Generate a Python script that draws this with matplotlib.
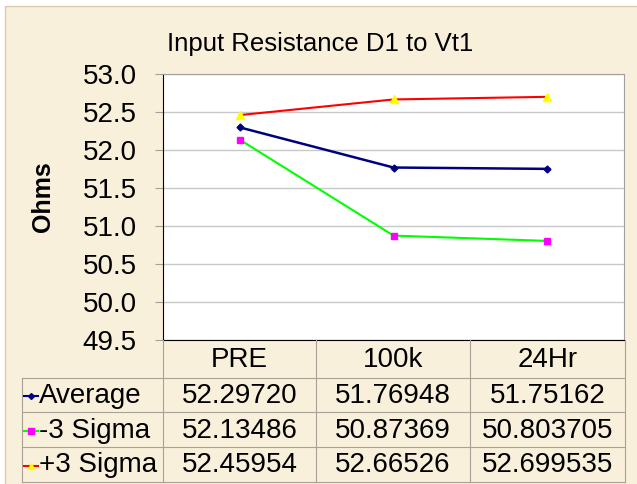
import matplotlib.pyplot as plt
from matplotlib.patches import Rectangle

plt.rcParams['font.family'] = ['Liberation Sans', 'DejaVu Sans']

categories = ["PRE", "100k", "24Hr"]
series_names = ["Average", "-3 Sigma", "+3 Sigma"]
avg_txt = ["52.29720", "51.76948", "51.75162"]
minus3_txt = ["52.13486", "50.87369", "50.803705"]
plus3_txt = ["52.45954", "52.66526", "52.699535"]
yticks = [49.5, 50.0, 50.5, 51.0, 51.5, 52.0, 52.5, 53.0]

avg = [float(v) for v in avg_txt]
minus3 = [float(v) for v in minus3_txt]
plus3 = [float(v) for v in plus3_txt]

W, H = 637, 484
bg = '#f9f0db'
grid_c = '#a8a195'

fig = plt.figure(figsize=(W / 100, H / 100), dpi=100, facecolor='white')

# page background, pixel coords
over = fig.add_axes([0, 0, 1, 1], zorder=0)
over.set_xlim(0, W)
over.set_ylim(H, 0)
over.axis('off')
over.add_patch(Rectangle((5, 6), W, H, facecolor=bg, edgecolor='#d8ccb0', lw=1))

# plot area
x0, y0, x1, y1 = 163, 74, 624, 340
ax = fig.add_axes([x0 / W, 1 - y1 / H, (x1 - x0) / W, (y1 - y0) / H], zorder=2)
ax.set_facecolor('white')
xs = range(len(categories))
ax.plot(xs, avg, color='#000080', lw=1.8, marker='D', ms=3.5, mfc='#000080', mec='#000080')
ax.plot(xs, minus3, color='#00ff00', lw=1.5, marker='s', ms=5, mfc='#ff00ff', mec='#ff00ff')
ax.plot(xs, plus3, color='#ff0000', lw=1.5, marker='^', ms=6, mfc='#ffff00', mec='#ffff00')
ax.set_xlim(-0.5, len(categories) - 0.5)
ax.set_ylim(49.5, 53.0)
ax.set_yticks(yticks)
ax.set_yticklabels([f"{t:.1f}" for t in yticks], fontsize=20)
ax.set_xticks([])
ax.grid(axis='y', color='#c8c8c8', lw=1)
ax.set_axisbelow(True)
ax.tick_params(axis='y', length=6, color='#a0a0a0', pad=13)
for s in ['top', 'right']:
    ax.spines[s].set_color('#a0a0a0')
ax.spines['left'].set_color('black')
ax.spines['bottom'].set_color('black')

fig.text(320 / W, 1 - 44 / H, "Input Resistance D1 to Vt1", fontsize=18.5,
         ha='center', va='center')
fig.text(43 / W, 1 - 197 / H, "Ohms", rotation=90, fontsize=18, fontweight='bold',
         ha='center', va='center')

# data table below the plot
tab = fig.add_axes([0, 0, 1, 1], zorder=3)
tab.set_xlim(0, W)
tab.set_ylim(H, 0)
tab.axis('off')
col_edges = [163, 316, 470, 625]
row_edges = [340, 378, 412, 447, 482]
lx = 22
for c in col_edges:
    tab.plot([c, c], [row_edges[0], row_edges[-1]], color=grid_c, lw=0.8)
tab.plot([lx, lx], [row_edges[1], row_edges[-1]], color=grid_c, lw=0.8)
for r in row_edges[1:]:
    tab.plot([lx, col_edges[-1]], [r, r], color=grid_c, lw=0.8)

for j, cat in enumerate(categories):
    cx = (col_edges[j] + col_edges[j + 1]) / 2
    tab.text(cx, (row_edges[0] + row_edges[1]) / 2 + 1, cat, fontsize=20,
             ha='center', va='center')

rows = [avg_txt, minus3_txt, plus3_txt]
keys = [('#000080', 'D', 3, '#000080'),
        ('#00ff00', 's', 4.5, '#ff00ff'),
        ('#ff0000', '^', 5, '#ffff00')]
for i, (name, vals, (lc, mk, ms, mc)) in enumerate(zip(series_names, rows, keys)):
    cy = (row_edges[i + 1] + row_edges[i + 2]) / 2 + 1
    tab.plot([24, 38], [cy, cy], color=lc, lw=1.5)
    tab.plot([31], [cy], linestyle='none', marker=mk, ms=ms, mfc=mc, mec=mc)
    tab.text(39, cy, name, fontsize=20, ha='left', va='center')
    for j, v in enumerate(vals):
        cx = (col_edges[j] + col_edges[j + 1]) / 2
        tab.text(cx, cy, v, fontsize=20, ha='center', va='center')

fig.savefig('out.png', dpi=100, facecolor='white')
